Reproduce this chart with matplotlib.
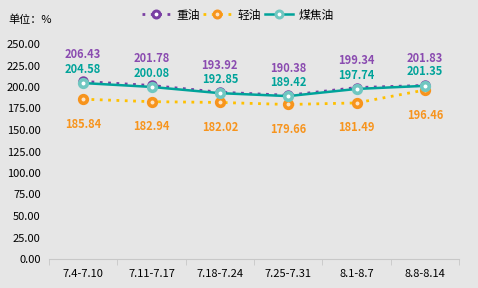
import matplotlib
matplotlib.use("Agg")
import matplotlib.pyplot as plt
from matplotlib.lines import Line2D

plt.rcParams['font.family'] = ['Noto Sans CJK SC', 'DejaVu Sans']

categories = ["7.4-7.10", "7.11-7.17", "7.18-7.24", "7.25-7.31", "8.1-8.7", "8.8-8.14"]
heavy_oil = [206.43, 201.78, 193.92, 190.38, 199.34, 201.83]
light_oil = [185.84, 182.94, 182.02, 179.66, 181.49, 196.46]
coal_tar = [204.58, 200.08, 192.85, 189.42, 197.74, 201.35]
yticks = [0, 25, 50, 75, 100, 125, 150, 175, 200, 225, 250]

BG = "#e6e6e6"
PURPLE = "#7a3fa3"
PURPLE_TXT = "#8a4bb0"
ORANGE = "#f7941d"
YELLOW = "#ffc000"
TEAL = "#00a39a"
TEAL_FILL = "#70c7c1"

fig = plt.figure(figsize=(4.78, 2.88), dpi=100, facecolor=BG)
ax = fig.add_axes([49 / 478, 1 - 259 / 288, 410 / 478, 215 / 288], facecolor=BG)

x = list(range(len(categories)))

ax.plot(x, light_oil, color=YELLOW, lw=2, ls=(0, (1, 2)), zorder=2)
ax.plot(x, light_oil, ls="none", marker="o", ms=5.5, mfc="#fde3c4", mec=ORANGE, mew=2.6, zorder=3)
ax.plot(x, heavy_oil, color=PURPLE, lw=2, ls=(0, (1, 2)), zorder=4)
ax.plot(x, heavy_oil, ls="none", marker="o", ms=5.5, mfc="white", mec=PURPLE, mew=2, zorder=5)
ax.plot(x, coal_tar, color=TEAL, lw=1.8, zorder=6)
ax.plot(x, coal_tar, ls="none", marker="o", ms=5.5, mfc="white", mec=TEAL_FILL, mew=2.6, zorder=7)

for i in x:
    ax.annotate(f"{heavy_oil[i]:.2f}", (i, heavy_oil[i]), xytext=(0, 19.5), textcoords="offset points",
                ha="center", va="center", fontsize=8, fontweight="bold", color=PURPLE_TXT)
    ax.annotate(f"{coal_tar[i]:.2f}", (i, coal_tar[i]), xytext=(0, 10), textcoords="offset points",
                ha="center", va="center", fontsize=8, fontweight="bold", color=TEAL)
    ax.annotate(f"{light_oil[i]:.2f}", (i, light_oil[i]), xytext=(0, -18), textcoords="offset points",
                ha="center", va="center", fontsize=8, fontweight="bold", color=ORANGE)

ax.set_xlim(-0.5, len(categories) - 0.5)
ax.set_ylim(0, 250)
ax.set_yticks(yticks)
ax.set_yticklabels([f"{v:.2f}" for v in yticks], fontsize=8)
ax.set_xticks(x)
ax.set_xticklabels(categories, fontsize=8)
ax.set_xticks([i - 0.5 for i in range(len(categories) + 1)], minor=True)
ax.tick_params(axis="x", which="major", length=0, pad=7)
ax.tick_params(axis="x", which="minor", length=4, color="#c8c8c8", direction="out")
ax.tick_params(axis="y", length=0, pad=6)
for s in ["top", "right", "left"]:
    ax.spines[s].set_visible(False)
ax.spines["bottom"].set_color("#c8c8c8")

fig.text(8 / 478, 1 - 20 / 288, "单位：%", fontsize=8, va="center", ha="left")

handles = [
    Line2D([], [], color=PURPLE, lw=2, ls=(0, (1, 2)), marker="o", ms=5, mfc="white", mec=PURPLE, mew=2.2),
    Line2D([], [], color=YELLOW, lw=2, ls=(0, (1, 2)), marker="o", ms=5, mfc="#fde3c4", mec=ORANGE, mew=2.2),
    Line2D([], [], color=TEAL, lw=1.8, marker="o", ms=5, mfc="white", mec=TEAL_FILL, mew=2.2),
]
fig.legend(handles, ["重油", "轻油", "煤焦油"], loc="center", bbox_to_anchor=(238 / 478, 1 - 15 / 288),
           ncol=3, frameon=False, fontsize=8.5, handlelength=2.4, handletextpad=0.5, columnspacing=0.3)

fig.savefig("out.png", dpi=100, facecolor=BG)
